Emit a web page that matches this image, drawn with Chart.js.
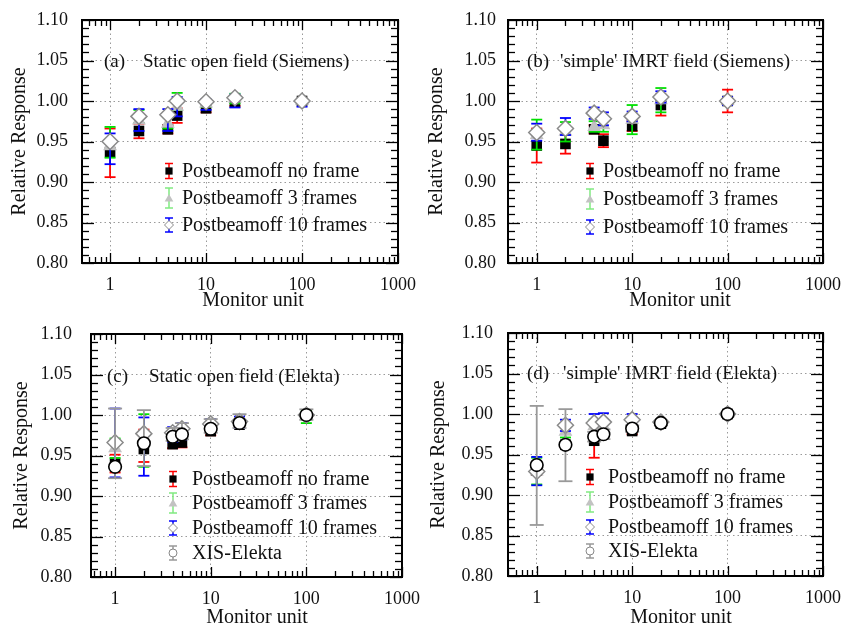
<!DOCTYPE html>
<html><head><meta charset="utf-8">
<script src="https://cdn.jsdelivr.net/npm/chart.js@4.4.0/dist/chart.umd.min.js"></script>
<style>
html,body{margin:0;padding:0;background:#fff;}
#wrap{position:relative;width:841px;height:629px;overflow:hidden;background:#fff;}
canvas{position:absolute;}
</style></head><body>
<div id="wrap">
<canvas id="ca" width="420" height="315" style="left:0;top:0"></canvas>
<canvas id="cb" width="421" height="315" style="left:420px;top:0"></canvas>
<canvas id="cc" width="420" height="314" style="left:0;top:315px"></canvas>
<canvas id="cd" width="421" height="314" style="left:420px;top:315px"></canvas>
</div>
<script>
// ---------------- DATA ----------------
const monitorUnits = [1, 2, 4, 5, 10, 20, 100];
const xTickValues = [1, 10, 100, 1000];
const xTickLabels = ['1', '10', '100', '1000'];
const yTickValues = [0.80, 0.85, 0.90, 0.95, 1.00, 1.05, 1.10];
const yTickLabels = ['0.80', '0.85', '0.90', '0.95', '1.00', '1.05', '1.10'];
const seriesLabels = ['Postbeamoff no frame', 'Postbeamoff 3 frames', 'Postbeamoff 10 frames', 'XIS-Elekta'];
const panelTitles = ['(a)', '(b)', '(c)', '(d)'];
const panelSubtitles = ['Static open field (Siemens)', "'simple' IMRT field (Siemens)", 'Static open field (Elekta)', "'simple' IMRT field (Elekta)"];
const xAxisTitle = 'Monitor unit';
const yAxisTitle = 'Relative Response';

// (a) Static open field (Siemens)
const aNoFrame   = [0.937, 0.963, 0.965, 0.982, 0.991, 0.998, 1.000];
const aNoFrameLo = [0.906, 0.954, 0.960, 0.973, 0.986, 0.994, 0.998];
const aNoFrameHi = [0.966, 0.972, 0.970, 0.991, 0.996, 1.002, 1.002];
const a3   = [0.944, 0.976, 0.972, 0.993, 0.997, 1.003, 1.000];
const a3Lo = [0.930, 0.973, 0.966, 0.989, 0.993, 0.997, 0.999];
const a3Hi = [0.968, 0.989, 0.980, 1.010, 1.001, 1.009, 1.001];
const a10   = [0.950, 0.981, 0.983, 1.000, 0.999, 1.004, 1.000];
const a10Lo = [0.922, 0.963, 0.963, 0.981, 0.989, 0.992, 0.993];
const a10Hi = [0.960, 0.990, 0.990, 1.005, 1.002, 1.008, 1.002];

// (b) 'simple' IMRT field (Siemens)
const bNoFrame   = [0.945, 0.947, 0.965, 0.951, 0.969, 0.995, 1.000];
const bNoFrameLo = [0.924, 0.935, 0.960, 0.943, 0.963, 0.982, 0.986];
const bNoFrameHi = [0.966, 0.959, 0.970, 0.959, 0.975, 1.008, 1.014];
const b3   = [0.958, 0.962, 0.968, 0.970, 0.977, 1.001, 1.000];
const b3Lo = [0.940, 0.950, 0.962, 0.962, 0.959, 0.986, 0.998];
const b3Hi = [0.977, 0.974, 0.975, 0.978, 0.995, 1.016, 1.002];
const b10   = [0.961, 0.966, 0.985, 0.978, 0.981, 1.005, 1.000];
const b10Lo = [0.951, 0.958, 0.978, 0.970, 0.975, 0.998, 0.995];
const b10Hi = [0.972, 0.979, 0.992, 0.986, 0.987, 1.012, 1.005];

// (c) Static open field (Elekta)
const cNoFrame   = [0.940, 0.958, 0.964, 0.966, 0.980, 0.988, 1.000];
const cNoFrameLo = [0.929, 0.942, 0.959, 0.960, 0.975, 0.985, 0.998];
const cNoFrameHi = [0.951, 0.982, 0.969, 0.972, 0.985, 0.991, 1.002];
const c3   = [0.959, 0.968, 0.975, 0.977, 0.985, 0.991, 1.000];
const c3Lo = [0.947, 0.936, 0.970, 0.972, 0.981, 0.988, 0.990];
const c3Hi = [0.971, 1.001, 0.980, 0.982, 0.989, 0.994, 1.005];
const c10   = [0.966, 0.977, 0.978, 0.983, 0.989, 0.992, 1.000];
const c10Lo = [0.923, 0.925, 0.967, 0.970, 0.983, 0.984, 0.997];
const c10Hi = [1.008, 0.997, 0.985, 0.990, 0.995, 0.998, 1.003];
const cXis   = [0.936, 0.965, 0.973, 0.976, 0.983, 0.990, 1.000];
const cXisLo = [0.922, 0.937, 0.968, 0.970, 0.978, 0.984, 0.994];
const cXisHi = [1.008, 1.006, 0.984, 0.990, 0.995, 1.001, 1.007];

// (d) 'simple' IMRT field (Elekta)
const dNoFrame   = [0.930, 0.962, 0.967, 0.975, 0.979, 0.988, 1.000];
const dNoFrameLo = [0.925, 0.958, 0.946, 0.970, 0.975, 0.986, 0.999];
const dNoFrameHi = [0.935, 0.966, 0.988, 0.980, 0.983, 0.990, 1.001];
const d3   = [0.929, 0.978, 0.985, 0.985, 0.988, 0.990, 1.000];
const d3Lo = [0.913, 0.971, 0.976, 0.978, 0.982, 0.988, 0.999];
const d3Hi = [0.946, 0.986, 0.993, 0.993, 0.994, 0.992, 1.001];
const d10   = [0.929, 0.986, 0.989, 0.990, 0.993, 0.990, 1.000];
const d10Lo = [0.912, 0.979, 0.977, 0.978, 0.986, 0.988, 0.999];
const d10Hi = [0.947, 0.993, 1.000, 1.001, 1.000, 0.992, 1.001];
const dXis   = [0.937, 0.962, 0.972, 0.975, 0.982, 0.989, 1.000];
const dXisLo = [0.863, 0.917, 0.966, 0.969, 0.978, 0.986, 0.998];
const dXisHi = [1.010, 1.006, 0.978, 0.981, 0.986, 0.992, 1.002];

// ---------------- STYLE ----------------
const SERIF = "'Liberation Serif', 'Times New Roman', serif";
const styles = [
  {pointStyle: 'rect', radius: 7.5, bg: '#000', border: '#000', bw: 0, err: '#ff0000', legErr: '#ff0000', cap: 5.5, order: 3, legH: 15, legR: 3.6},
  {pointStyle: 'triangle', radius: 8, bg: '#c2c2c2', border: '#c2c2c2', bw: 0, err: '#00e000', legErr: '#80ea80', cap: 5.5, order: 2, legH: 20, legR: 5},
  {pointStyle: 'rectRot', radius: 8, bg: '#fff', border: '#8a8a8a', bw: 1.5, err: '#0000ff', legErr: '#0000ff', cap: 5.5, order: 1, legH: 14, legR: 4.5},
  {pointStyle: 'circle', radius: 6.3, bg: '#fff', border: '#000', bw: 1.6, err: '#999999', legErr: '#999999', cap: 7, order: 0, legH: 14, legR: 4}
];

function line(ctx, x1, y1, x2, y2) { ctx.beginPath(); ctx.moveTo(x1, y1); ctx.lineTo(x2, y2); ctx.stroke(); }

function marker(ctx, st, x, y, r, fill, stroke, lw) {
  ctx.save();
  ctx.fillStyle = fill; ctx.strokeStyle = stroke; ctx.lineWidth = lw;
  ctx.beginPath();
  if (st === 'rect') { ctx.rect(x - r, y - r, 2 * r, 2 * r); }
  else if (st === 'triangle') { ctx.moveTo(x, y - r); ctx.lineTo(x + r * 0.866, y + r * 0.5); ctx.lineTo(x - r * 0.866, y + r * 0.5); ctx.closePath(); }
  else if (st === 'rectRot') { ctx.moveTo(x - r, y); ctx.lineTo(x, y - r); ctx.lineTo(x + r, y); ctx.lineTo(x, y + r); ctx.closePath(); }
  else { ctx.arc(x, y, r, 0, Math.PI * 2); }
  ctx.fill(); if (lw > 0) ctx.stroke();
  ctx.restore();
}

function makePanel(canvasId, cfg) {
  const datasets = cfg.series.map((s, k) => {
    const st = styles[k];
    return {
      label: seriesLabels[k],
      data: monitorUnits.map((x, i) => ({x: x, y: s[0][i]})),
      errLo: s[1], errHi: s[2], errColor: st.err, capHalf: st.cap, styleIdx: k,
      pointStyle: st.pointStyle, pointRadius: st.radius, pointHoverRadius: st.radius,
      pointBackgroundColor: st.bg, pointBorderColor: st.border, pointBorderWidth: st.bw,
      showLine: false, order: st.order
    };
  });

  const decor = {
    id: 'decor' + canvasId,
    beforeDatasetDraw(chart, args) {
      const ds = chart.data.datasets[args.index];
      const xs = chart.scales.x, ys = chart.scales.y, ctx = chart.ctx;
      ctx.save(); ctx.strokeStyle = ds.errColor; ctx.lineWidth = 1.8;
      ds.data.forEach((p, i) => {
        const px = xs.getPixelForValue(p.x);
        const yl = ys.getPixelForValue(ds.errLo[i]), yh = ys.getPixelForValue(ds.errHi[i]);
        if (Math.abs(yl - yh) < 2) return;
        line(ctx, px, yl, px, yh);
        line(ctx, px - ds.capHalf, yl, px + ds.capHalf, yl);
        line(ctx, px - ds.capHalf, yh, px + ds.capHalf, yh);
      });
      ctx.restore();
    },
    afterDraw(chart) {
      const ctx = chart.ctx, ca = chart.chartArea, xs = chart.scales.x, ys = chart.scales.y;
      ctx.save();
      // ticks (inward, all four sides)
      ctx.strokeStyle = '#000'; ctx.lineWidth = 1.3;
      for (let k = 80; k <= 110; k++) {
        const v = k / 100, py = Math.round(ys.getPixelForValue(v)) + 0.5;
        const L = (k % 5 === 0) ? 12 : 7;
        line(ctx, ca.left, py, ca.left + L, py);
        line(ctx, ca.right, py, ca.right - L, py);
      }
      const minX = xs.min;
      for (let dec = 0.1; dec <= 1000; dec *= 10) {
        for (let m = 1; m <= 9; m++) {
          const v = dec * m;
          if (v < minX * 0.999 || v > 1000.001) continue;
          const px = Math.round(xs.getPixelForValue(v)) + 0.5;
          const L = (m === 1) ? 10 : 6;
          line(ctx, px, ca.bottom, px, ca.bottom - L);
          line(ctx, px, ca.top, px, ca.top + L);
        }
      }
      // frame
      ctx.lineWidth = 2;
      ctx.strokeRect(ca.left, ca.top, ca.right - ca.left, ca.bottom - ca.top);

      // annotation
      ctx.fillStyle = '#111'; ctx.textBaseline = 'middle'; ctx.textAlign = 'left';
      ctx.font = cfg.annFont + 'px ' + SERIF;
      ctx.fillText(panelTitles[cfg.idx], cfg.ann[0], cfg.ann[2]);
      ctx.fillText(panelSubtitles[cfg.idx], cfg.ann[1], cfg.ann[2]);

      // legend
      ctx.font = '20px ' + SERIF;
      chart.data.datasets.forEach((ds, k) => {
        const st = styles[ds.styleIdx];
        const x = cfg.leg[0], y = cfg.leg[2][k];
        ctx.strokeStyle = st.legErr; ctx.lineWidth = 1.5;
        const h = st.legH / 2, c = 4;
        line(ctx, x, y - h, x, y + h);
        line(ctx, x - c, y - h, x + c, y - h);
        line(ctx, x - c, y + h, x + c, y + h);
        marker(ctx, st.pointStyle, x, y + (st.pointStyle === 'triangle' ? 1 : 0), st.legR, st.bg,
               st.pointStyle === 'circle' ? '#888' : st.border, st.bw > 0 ? 1 : 0);
        ctx.fillStyle = '#111';
        ctx.fillText(ds.label, cfg.leg[1], y + 1);
      });

      // axis titles
      ctx.font = '20px ' + SERIF; ctx.textAlign = 'center';
      ctx.fillText(xAxisTitle, cfg.xTitle[0], cfg.xTitle[1]);
      ctx.save();
      ctx.translate(cfg.yTitleX, (ca.top + ca.bottom) / 2);
      ctx.rotate(-Math.PI / 2);
      ctx.fillText(yAxisTitle, 0, 0);
      ctx.restore();
      ctx.restore();
    }
  };

  return new Chart(document.getElementById(canvasId), {
    type: 'scatter',
    data: {datasets: datasets},
    options: {
      responsive: false, animation: false, devicePixelRatio: 1,
      layout: {padding: {left: 0, top: cfg.top, right: cfg.right, bottom: 0}},
      plugins: {legend: {display: false}, tooltip: {enabled: false}},
      scales: {
        x: {
          type: 'logarithmic', min: cfg.xmin, max: 1000,
          afterBuildTicks: s => { s.ticks = xTickValues.map(v => ({value: v})); },
          afterFit: s => { s.height = cfg.xh; s.paddingLeft = 0; s.paddingRight = 0; },
          ticks: {autoSkip: false, maxRotation: 0, padding: cfg.xpad, color: '#111',
                  font: {family: SERIF, size: 18},
                  callback: v => { const i = xTickValues.indexOf(v); return i >= 0 ? xTickLabels[i] : ''; }},
          grid: {color: '#9a9a9a', lineWidth: 1, drawTicks: false},
          border: {display: false, dash: [1.5, 3]}
        },
        y: {
          type: 'linear', min: 0.8, max: 1.1,
          afterBuildTicks: s => { s.ticks = yTickValues.map(v => ({value: v})); },
          afterFit: s => { s.width = cfg.yw; s.paddingTop = 0; s.paddingBottom = 0; },
          ticks: {padding: cfg.ypad, color: '#111', font: {family: SERIF, size: 18},
                  callback: v => { const i = yTickValues.findIndex(t => Math.abs(t - v) < 1e-6); return i >= 0 ? yTickLabels[i] : ''; }},
          grid: {color: '#9a9a9a', lineWidth: 1, drawTicks: false},
          border: {display: false, dash: [1.5, 3]}
        }
      }
    },
    plugins: [decor]
  });
}

makePanel('ca', {idx: 0, xmin: 0.51, yw: 82, top: 20, right: 22, xh: 52, xpad: 11, ypad: 14,
  series: [[aNoFrame, aNoFrameLo, aNoFrameHi], [a3, a3Lo, a3Hi], [a10, a10Lo, a10Hi]],
  ann: [104, 143, 62], annFont: 19, leg: [169, 182, [171, 198, 225]], xTitle: [253, 301], yTitleX: 20});
makePanel('cb', {idx: 1, xmin: 0.5, yw: 88, top: 20, right: 18, xh: 52, xpad: 11, ypad: 12,
  series: [[bNoFrame, bNoFrameLo, bNoFrameHi], [b3, b3Lo, b3Hi], [b10, b10Lo, b10Hi]],
  ann: [107, 140, 62], annFont: 19, leg: [170, 183, [171, 199, 227]], xTitle: [260, 301], yTitleX: 17});
makePanel('cc', {idx: 2, xmin: 0.56, yw: 91, top: 19, right: 18, xh: 52, xpad: 11, ypad: 19,
  series: [[cNoFrame, cNoFrameLo, cNoFrameHi], [c3, c3Lo, c3Hi], [c10, c10Lo, c10Hi], [cXis, cXisLo, cXisHi]],
  ann: [107, 149, 62], annFont: 19, leg: [173, 192, [164, 188, 213, 238]], xTitle: [257, 303], yTitleX: 22});
makePanel('cd', {idx: 3, xmin: 0.5, yw: 88, top: 18, right: 18, xh: 53, xpad: 11, ypad: 15,
  series: [[dNoFrame, dNoFrameLo, dNoFrameHi], [d3, d3Lo, d3Hi], [d10, d10Lo, d10Hi], [dXis, dXisLo, dXisHi]],
  ann: [107, 143, 59], annFont: 19, leg: [170, 188, [162, 187, 212, 236]], xTitle: [261, 303], yTitleX: 19});
</script>
</body></html>
